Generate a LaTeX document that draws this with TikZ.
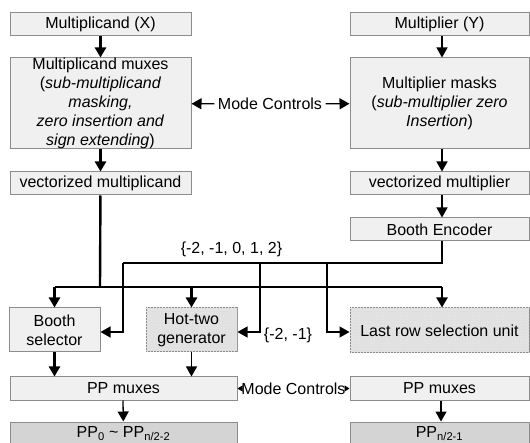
\documentclass[tikz,border=0pt]{standalone}
\usepackage{fontspec}
\setmainfont{Liberation Sans}
\usetikzlibrary{arrows.meta,patterns}
\begin{document}
\begin{tikzpicture}[x=1pt,y=-1pt,>={Triangle[length=10pt,width=11pt]},
  font=\fontsize{16}{19}\selectfont,
  box/.style={draw=black!45,line width=1pt,fill=black!6,inner sep=0pt,align=center},
  shadebox/.style={box,fill=black!11,postaction={pattern=grid,pattern color=black!12}},
  darkbox/.style={box,fill=black!17},
  wire/.style={line width=1.3pt},
  bus/.style={line width=2.4pt},
  tiny/.style={-{Triangle[length=5pt,width=6pt]},line width=0.8pt}]
\useasboundingbox (0,0) rectangle (530,443);
% multiplicand side
\node[box,minimum width=181,minimum height=23] (mcand) at (100.5,24.5) {Multiplicand (X)};
\node[box,minimum width=181,minimum height=91] (mmux) at (100.5,103.5) {Multiplicand muxes\\(\textit{sub-multiplicand}\\\textit{masking,}\\\textit{zero insertion and}\\\textit{sign extending})};
\node[box,minimum width=181,minimum height=23] (vmcand) at (100.5,183.5) {vectorized multiplicand};
% multiplier side
\node[box,minimum width=179,minimum height=23] (mplier) at (439.5,24.5) {Multiplier (Y)};
\node[box,minimum width=179,minimum height=91] (mmask) at (439.5,103.5) {Multiplier masks\\(\textit{sub-multiplier zero}\\\textit{Insertion})};
\node[box,minimum width=179,minimum height=23] (vmplier) at (439.5,183.5) {vectorized multiplier};
\node[box,minimum width=179,minimum height=23] (enc) at (439.5,229.5) {Booth Encoder};
\node (mc) at (270,104) {Mode Controls};
% selection
\node[box,minimum width=91,minimum height=44] (bsel) at (54.5,330) {Booth\\selector};
\node[shadebox,minimum width=91,minimum height=44] (hot) at (191.5,330) {Hot-two\\generator};
\node[shadebox,minimum width=179,minimum height=45] (last) at (439.5,330.5) {Last row selection unit};
\node[box,minimum width=227,minimum height=23] (ppmL) at (123.5,388.5) {PP muxes};
\node[box,minimum width=179,minimum height=23] (ppmR) at (439.5,388.5) {PP muxes};
\node[inner xsep=0.5pt] (mc2) at (293.5,388.5) {Mode Controls};
\node[darkbox,minimum width=227,minimum height=23] (ppL) at (123.5,433.5) {PP\textsubscript{0} \textasciitilde\ PP\textsubscript{n/2-2}};
\node[darkbox,minimum width=179,minimum height=23] (ppR) at (439.5,433.5) {PP\textsubscript{n/2-1}};
% wires
\draw[->,bus](mcand)--(mmux);
\draw[->,bus](mmux)--(vmcand);
\draw[->,wire](mplier.south-|442,0)--(mmask.north-|442,0);
\draw[->,wire](mmask.south-|442,0)--(vmplier.north-|442,0);
\draw[->,wire](vmplier.south-|442,0)--(enc.north-|442,0);
\draw[->,wire](mc)--(mmux);
\draw[->,wire](mc)--(mmask);
\draw[tiny](mc2)--(ppmL);
\draw[tiny](mc2)--(ppmR);
% multiplicand bus
\coordinate (jn) at (100,287);
\draw[bus](vmcand)--(jn);
\draw[bus](jn-|bsel)--(442,287);
\draw[->,bus](jn-|bsel)--(bsel);
\draw[->,bus](jn-|hot)--(hot);
\draw[->,bus](jn-|442,0)--(last.north-|442,0);
% encoder outputs
\coordinate (e1) at (442,263);
\draw[wire](enc.south-|e1)--(e1)--(123,263)node[pos=0.66,above=2pt]{\{-2, -1, 0, 1, 2\}};
\draw[->,wire](123,263)--(123,332)--(bsel.east|-0,332);
\draw[->,wire](260,263)--(260,332)node[right=0pt,yshift=-3pt]{\{-2, -1\}}--(hot.east|-0,332);
\draw[->,wire](327,263)--(327,332)--(last.west|-0,332);
% outputs
\draw[->,bus](bsel)--(ppmL.north-|bsel);
\draw[->,wire](hot)--(ppmL.north-|hot);
\draw[->,wire](ppmL.south-|123,0)--(ppL);
\draw[->,wire](ppmR.south-|441,0)--(ppR.north-|441,0);
\end{tikzpicture}
\end{document}
